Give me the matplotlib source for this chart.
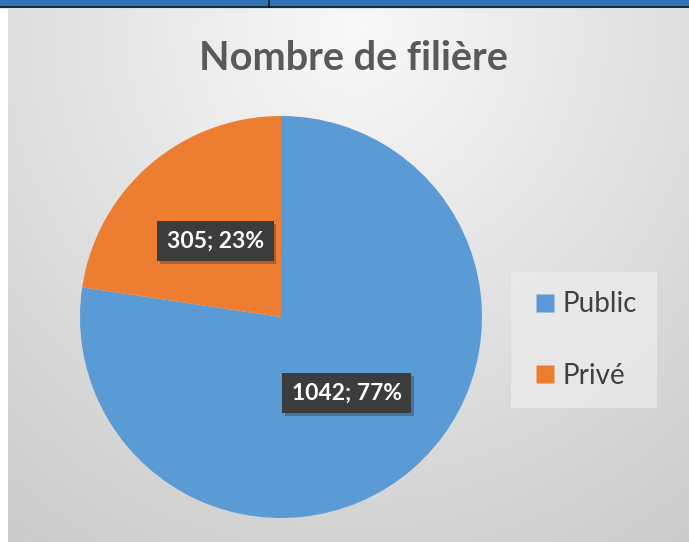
import numpy as np
import matplotlib
matplotlib.use("Agg")
import matplotlib.pyplot as plt
from matplotlib.lines import Line2D
import matplotlib.patheffects as pe

plt.rcParams['font.family'] = ['Lato', 'DejaVu Sans']

title = "Nombre de filière"
categories = ["Public", "Privé"]
values = [1042, 305]
colors = ["#5b9bd5", "#ed7d31"]

W, H = 689, 542
fig = plt.figure(figsize=(W / 100, H / 100), dpi=100)

# background
bg = fig.add_axes([0, 0, 1, 1])
bg.set_xlim(0, W)
bg.set_ylim(H, 0)
bg.axis("off")
yy, xx = np.mgrid[0:H, 0:W]
d = np.sqrt(((xx - 350) / 560.0) ** 2 + ((yy - 20) / 600.0) ** 2)
g = np.clip(0.975 - 0.17 * d, 0.80, 0.975)
img = np.dstack([g, g, g])
bg.imshow(img, extent=(8, W, H, 9), aspect="auto", zorder=0)
bg.add_patch(plt.Rectangle((0, 0), W, 7, color="#2e74b5", zorder=2))
bg.plot([0, W], [7, 7], color="#1a1a1a", lw=1.2, zorder=3)
bg.plot([269, 269], [0, 7], color="#1a1a1a", lw=1.2, zorder=3)

fig.text(353 / W, 1 - 59 / H, title, ha="center", va="center",
         fontsize=28.5, fontweight="bold", color="#595959")

# pie
cx, cy, r = 281, 317, 201
ax = fig.add_axes([(cx - r) / W, (H - cy - r) / H, 2 * r / W, 2 * r / H])

def fmt(p):
    v = int(round(p * sum(values) / 100.0))
    return f"{v}; {p:.0f}%"

wedges, texts, autotexts = ax.pie(values, colors=colors, startangle=90,
                                  counterclock=False, autopct=fmt,
                                  pctdistance=0.5, radius=1,
                                  wedgeprops=dict(linewidth=0))
ax.set_xlim(-1, 1)
ax.set_ylim(-1, 1)
ax.set_aspect("auto")
ax.axis("off")
for t in autotexts:
    t.set_color("white")
    t.set_fontsize(16.5)
    t.set_fontweight("bold")
    t.set_bbox(dict(boxstyle="square,pad=0.42", facecolor="#3c3c3c",
                    edgecolor="none"))
    t.get_bbox_patch().set_path_effects(
        [pe.SimplePatchShadow(offset=(2, -2), shadow_rgbFace="k", alpha=0.25),
         pe.Normal()])

handles = [Line2D([0], [0], marker="s", linestyle="none", markersize=12.5,
                  markerfacecolor=c, markeredgecolor="none") for c in colors]
leg = fig.legend(handles, categories, loc="center",
                 bbox_to_anchor=(584 / W, 1 - 340 / H), frameon=True,
                 fontsize=20, labelspacing=1.64, handletextpad=0.15,
                 borderpad=0.7, handlelength=1.0, fancybox=False)
leg.get_frame().set_facecolor("#ebebeb")
leg.get_frame().set_edgecolor("none")
for t in leg.get_texts():
    t.set_color("#404040")

fig.savefig("out.png", dpi=100)
